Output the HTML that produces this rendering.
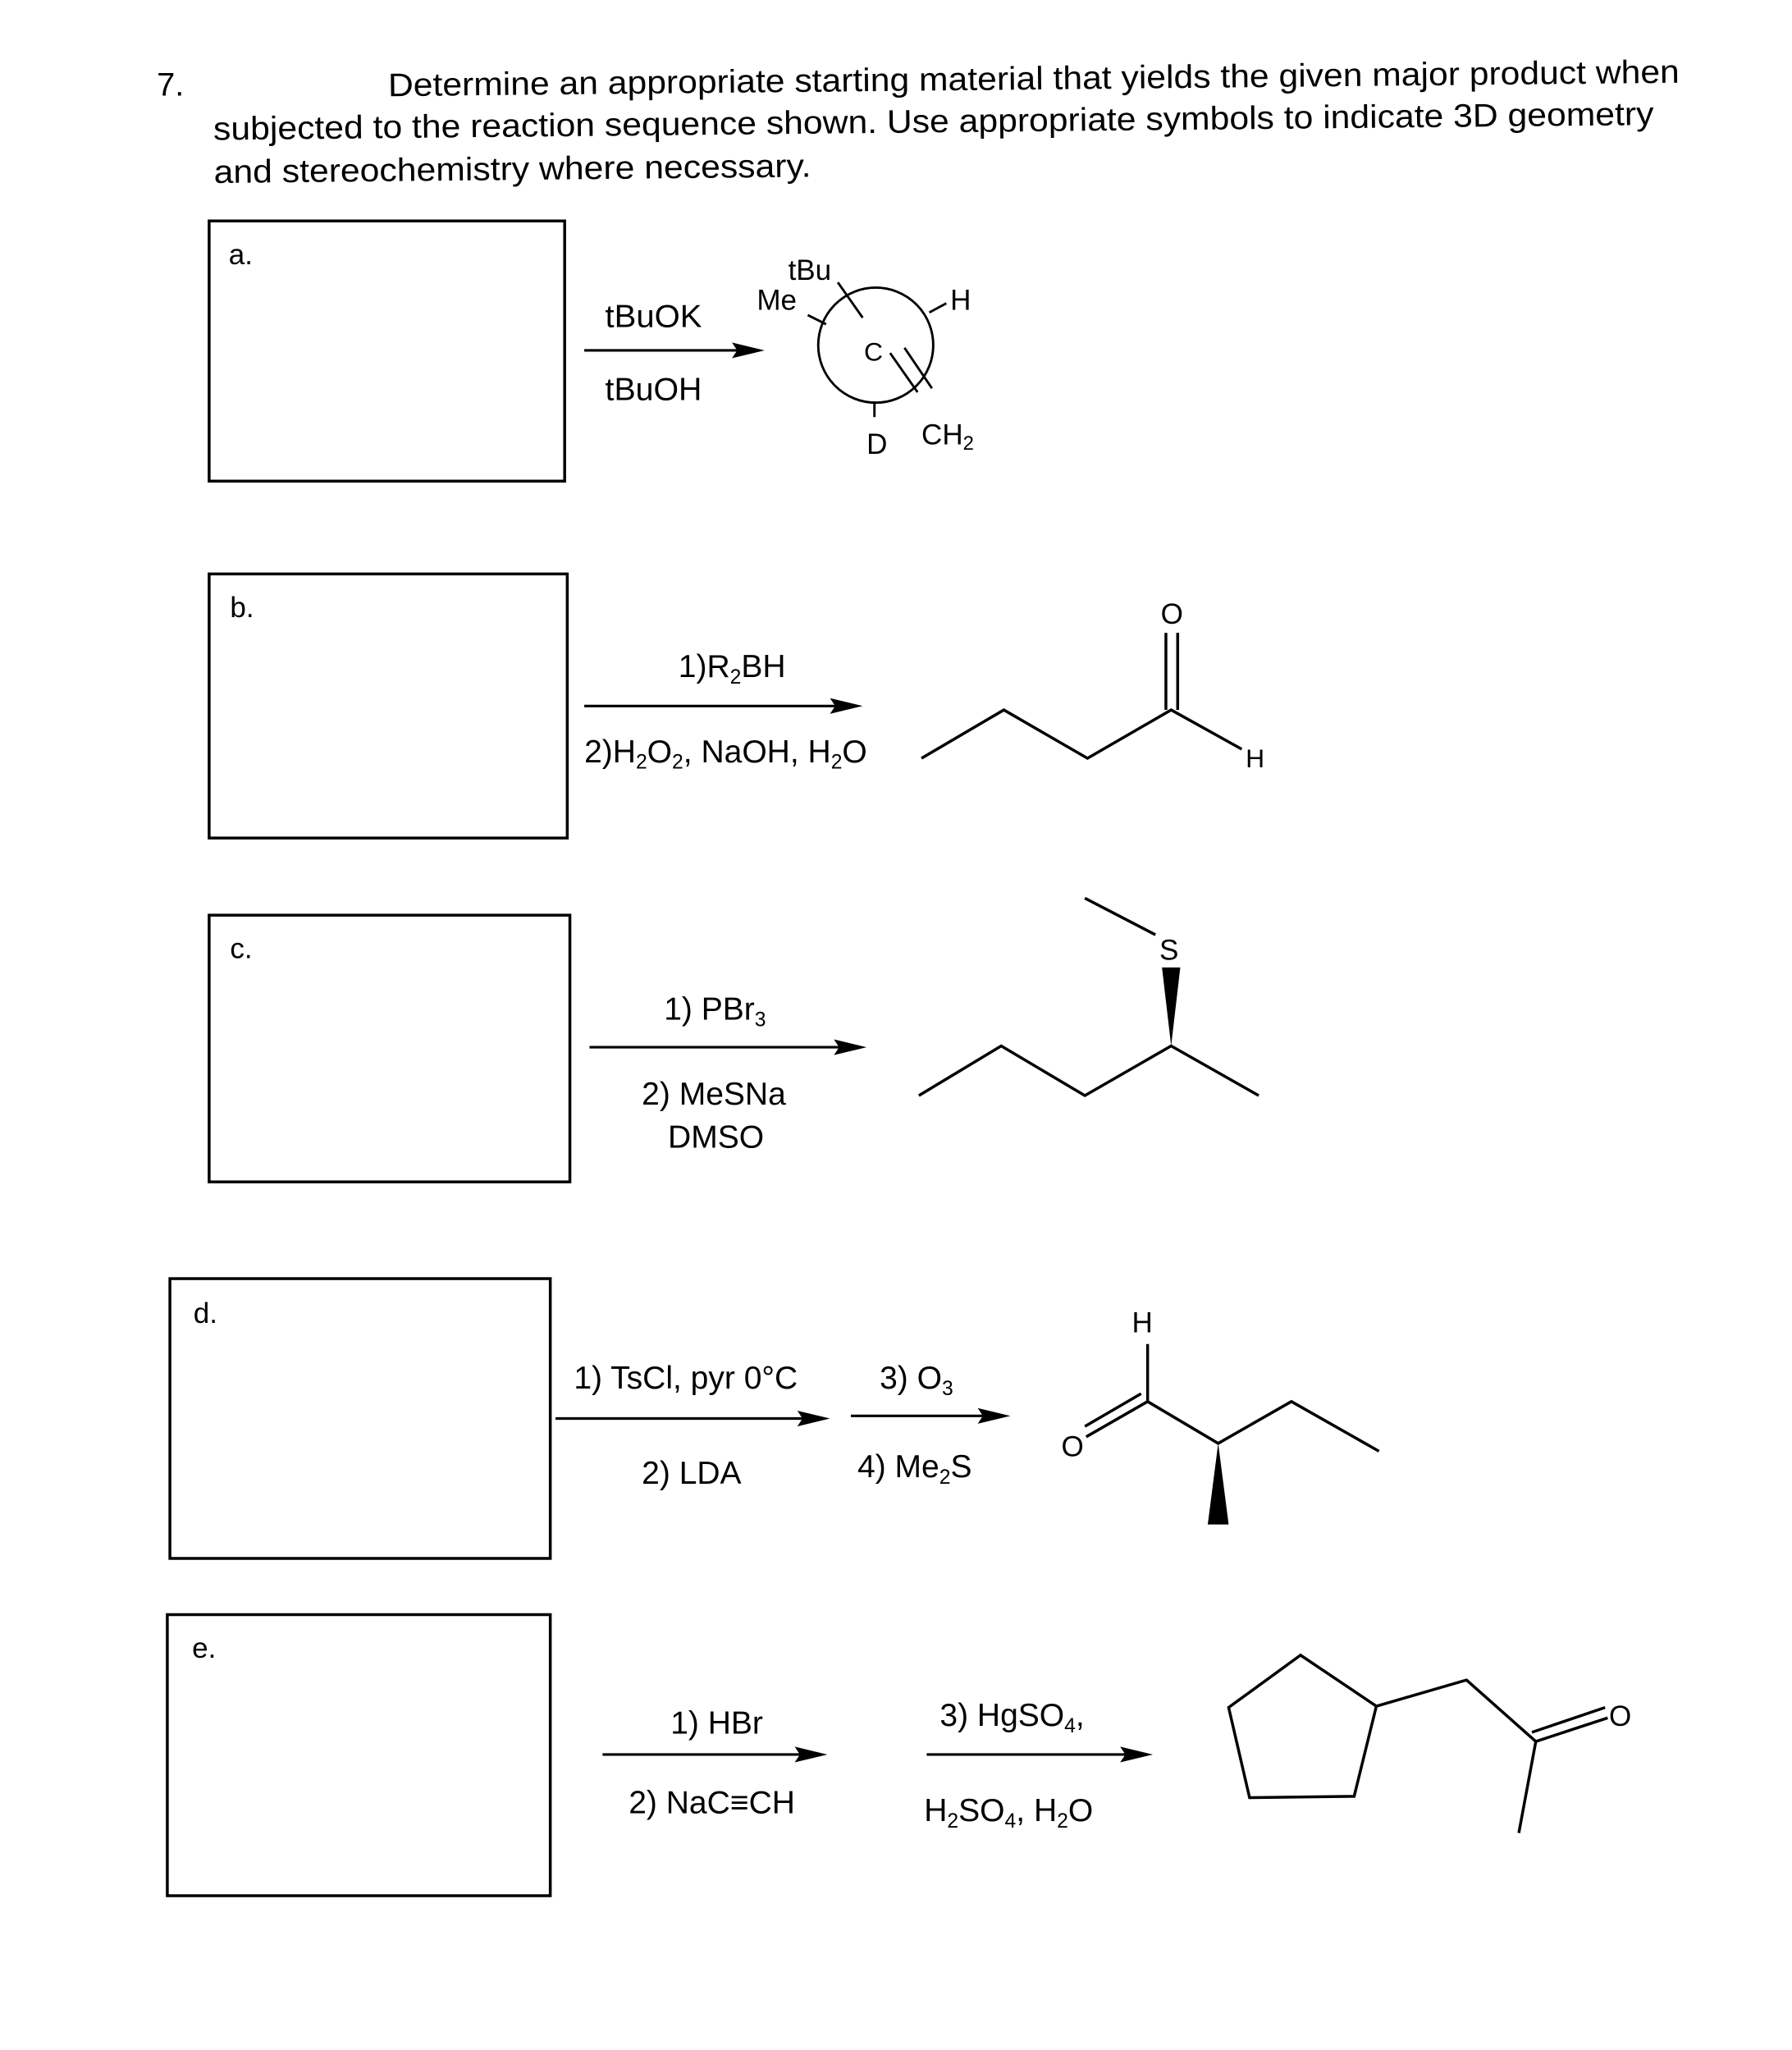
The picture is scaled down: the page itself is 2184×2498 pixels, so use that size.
<!DOCTYPE html>
<html><head><meta charset="utf-8"><style>html,body{margin:0;padding:0;background:#fff}svg{display:block}</style></head>
<body>
<svg width="2184" height="2498" viewBox="0 0 1371 1568" preserveAspectRatio="none" xmlns="http://www.w3.org/2000/svg" font-family="Liberation Sans, Arial, sans-serif" fill="#000">
<rect x="0" y="0" width="1371" height="1568" fill="#fff"/>
<g font-size="25">
<text x="120" y="73">7.</text>
<g transform="translate(0 3) rotate(-0.6 163 72)">
<text x="297" y="72" textLength="988" lengthAdjust="spacingAndGlyphs">Determine an appropriate starting material that yields the given major product when</text>
<text x="163" y="104" textLength="1102" lengthAdjust="spacingAndGlyphs">subjected to the reaction sequence shown. Use appropriate symbols to indicate 3D geometry</text>
<text x="163" y="137" textLength="457" lengthAdjust="spacingAndGlyphs">and stereochemistry where necessary.</text>
</g>
</g>
<g fill="none" stroke="#000" stroke-width="2.2">
<rect x="160" y="169" width="272" height="199"/>
<rect x="160" y="439" width="274" height="202"/>
<rect x="160" y="700" width="276" height="204"/>
<rect x="130" y="978" width="291" height="214"/>
<rect x="128" y="1235" width="293" height="215"/>
</g>
<g font-size="22">
<text x="175" y="202">a.</text>
<text x="176" y="472">b.</text>
<text x="176" y="733">c.</text>
<text x="148" y="1012">d.</text>
<text x="147" y="1268">e.</text>
</g>
<g stroke="#000" stroke-width="2">
<line x1="447" y1="268" x2="570" y2="268"/>
<line x1="447" y1="540" x2="645" y2="540"/>
<line x1="451" y1="801" x2="648" y2="801"/>
<line x1="425" y1="1085" x2="620" y2="1085"/>
<line x1="651" y1="1083" x2="758" y2="1083"/>
<line x1="461" y1="1342" x2="618" y2="1342"/>
<line x1="709" y1="1342" x2="867" y2="1342"/>
</g>
<g>
<polygon points="585,268 560,262 564,268 560,274"/>
<polygon points="660,540 635,534 639,540 635,546"/>
<polygon points="663,801 638,795 642,801 638,807"/>
<polygon points="635,1085 610,1079 614,1085 610,1091"/>
<polygon points="773,1083 748,1077 752,1083 748,1089"/>
<polygon points="633,1342 608,1336 612,1342 608,1348"/>
<polygon points="882,1342 857,1336 861,1342 857,1348"/>
</g>
<g font-size="24.5">
<text x="463" y="250" textLength="74" lengthAdjust="spacingAndGlyphs">tBuOK</text>
<text x="463" y="306" textLength="74" lengthAdjust="spacingAndGlyphs">tBuOH</text>
<text x="519" y="518">1)R<tspan font-size="15.5" dy="5">2</tspan><tspan dy="-5">BH</tspan></text>
<text x="447" y="583">2)H<tspan font-size="15.5" dy="5">2</tspan><tspan dy="-5">O</tspan><tspan font-size="15.5" dy="5">2</tspan><tspan dy="-5">, NaOH, H</tspan><tspan font-size="15.5" dy="5">2</tspan><tspan dy="-5">O</tspan></text>
<text x="508" y="780">1) PBr<tspan font-size="15.5" dy="5">3</tspan></text>
<text x="491" y="845">2) MeSNa</text>
<text x="511" y="878">DMSO</text>
<text x="439" y="1062">1) TsCl, pyr 0°C</text>
<text x="491" y="1135">2) LDA</text>
<text x="673" y="1062">3) O<tspan font-size="15.5" dy="5">3</tspan></text>
<text x="656" y="1130">4) Me<tspan font-size="15.5" dy="5">2</tspan><tspan dy="-5">S</tspan></text>
<text x="513" y="1326">1) HBr</text>
<text x="481" y="1387">2) NaC≡CH</text>
<text x="719" y="1320">3) HgSO<tspan font-size="15.5" dy="5">4</tspan><tspan dy="-5">,</tspan></text>
<text x="707" y="1393">H<tspan font-size="15.5" dy="5">2</tspan><tspan dy="-5">SO</tspan><tspan font-size="15.5" dy="5">4</tspan><tspan dy="-5">, H</tspan><tspan font-size="15.5" dy="5">2</tspan><tspan dy="-5">O</tspan></text>
</g>
<g fill="none" stroke="#000" stroke-width="1.8">
<circle cx="670" cy="264" r="44"/>
<line x1="641" y1="216" x2="660" y2="243"/>
<line x1="618" y1="241" x2="632" y2="248"/>
<line x1="711" y1="239" x2="724" y2="232"/>
<line x1="669" y1="307" x2="669" y2="319"/>
<line x1="681" y1="270" x2="702" y2="300"/>
<line x1="692" y1="266" x2="713" y2="297"/>
</g>
<g font-size="22">
<text x="603" y="214">tBu</text>
<text x="579" y="237">Me</text>
<text x="727" y="237">H</text>
<text x="661" y="276" font-size="20">C</text>
<text x="663" y="347">D</text>
<text x="705" y="340">CH<tspan font-size="15" dy="4">2</tspan></text>
</g>
<g fill="none" stroke="#000" stroke-width="2.2">
<polyline points="705,580 768,543 832,580 896,543 950,573"/>
<line x1="892" y1="543" x2="892" y2="484"/>
<line x1="901" y1="543" x2="901" y2="484"/>
</g>
<text x="888" y="477" font-size="22">O</text>
<text x="953" y="587" font-size="20">H</text>
<g fill="none" stroke="#000" stroke-width="2.2">
<polyline points="703,838 766,800 830,838 896,800 963,838"/>
<line x1="830" y1="687" x2="884" y2="715"/>
</g>
<polygon points="896,800 889,740 903,740"/>
<text x="887" y="734" font-size="22">S</text>
<g fill="none" stroke="#000" stroke-width="2.2">
<line x1="878" y1="1028" x2="878" y2="1072"/>
<polyline points="878,1072 932,1104 988,1072 1055,1110"/>
<line x1="878" y1="1072" x2="831" y2="1099"/>
<line x1="873" y1="1066" x2="830" y2="1091"/>
</g>
<polygon points="932,1104 924,1166 940,1166"/>
<text x="866" y="1019" font-size="22">H</text>
<text x="812" y="1114" font-size="22">O</text>
<g fill="none" stroke="#000" stroke-width="2.2">
<polygon points="995,1266 1053,1305 1036,1374 956,1375 940,1306"/>
<polyline points="1053,1305 1122,1285 1175,1332 1162,1402"/>
<line x1="1175" y1="1332" x2="1230" y2="1314"/>
<line x1="1172" y1="1325" x2="1228" y2="1306"/>
</g>
<text x="1231" y="1320" font-size="22">O</text>
</svg>
</body></html>
